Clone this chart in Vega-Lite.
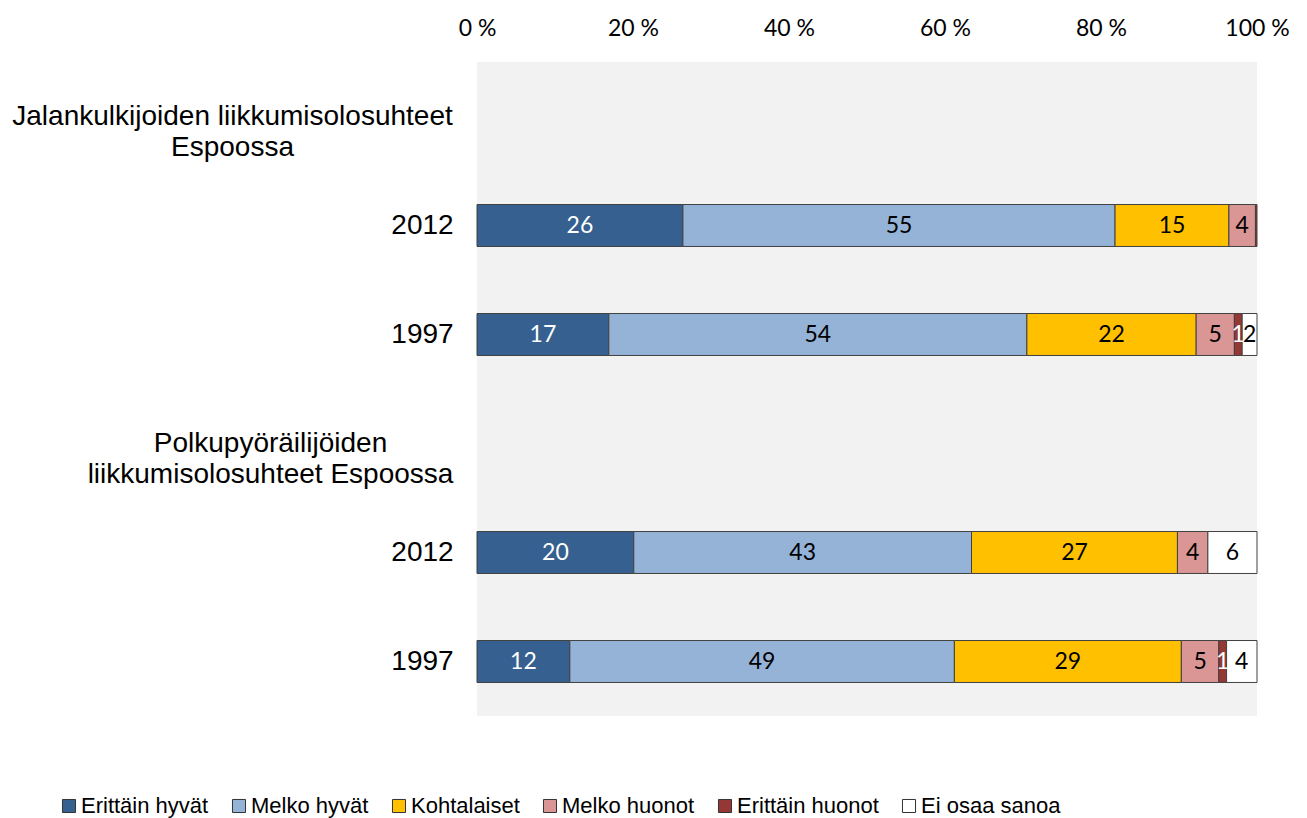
{
  "$schema": "https://vega.github.io/schema/vega-lite/v6.json",
  "width": 780,
  "height": 654,
  "autosize": {"type": "none"},
  "padding": {"left": 477, "top": 62, "right": 50, "bottom": 102},
  "background": "white",
  "config": {"view": {"fill": "#f2f2f2", "stroke": null}},
  "data": {"values": [
    {"row": "J2012", "cat": "Erittäin hyvät", "value": 26.4, "label": "26"},
    {"row": "J2012", "cat": "Melko hyvät", "value": 55.4, "label": "55"},
    {"row": "J2012", "cat": "Kohtalaiset", "value": 14.6, "label": "15"},
    {"row": "J2012", "cat": "Melko huonot", "value": 3.4, "label": "4"},
    {"row": "J2012", "cat": "Erittäin huonot", "value": 0.2, "label": ""},
    {"row": "J1997", "cat": "Erittäin hyvät", "value": 16.9, "label": "17"},
    {"row": "J1997", "cat": "Melko hyvät", "value": 53.6, "label": "54"},
    {"row": "J1997", "cat": "Kohtalaiset", "value": 21.7, "label": "22"},
    {"row": "J1997", "cat": "Melko huonot", "value": 4.9, "label": "5"},
    {"row": "J1997", "cat": "Erittäin huonot", "value": 1.0, "label": "1"},
    {"row": "J1997", "cat": "Ei osaa sanoa", "value": 1.9, "label": "2"},
    {"row": "P2012", "cat": "Erittäin hyvät", "value": 20.1, "label": "20"},
    {"row": "P2012", "cat": "Melko hyvät", "value": 43.3, "label": "43"},
    {"row": "P2012", "cat": "Kohtalaiset", "value": 26.4, "label": "27"},
    {"row": "P2012", "cat": "Melko huonot", "value": 3.9, "label": "4"},
    {"row": "P2012", "cat": "Ei osaa sanoa", "value": 6.3, "label": "6"},
    {"row": "P1997", "cat": "Erittäin hyvät", "value": 11.9, "label": "12"},
    {"row": "P1997", "cat": "Melko hyvät", "value": 49.3, "label": "49"},
    {"row": "P1997", "cat": "Kohtalaiset", "value": 29.1, "label": "29"},
    {"row": "P1997", "cat": "Melko huonot", "value": 4.8, "label": "5"},
    {"row": "P1997", "cat": "Erittäin huonot", "value": 1.0, "label": "1"},
    {"row": "P1997", "cat": "Ei osaa sanoa", "value": 3.9, "label": "4"}
  ]},
  "transform": [
    {"calculate": "indexof(['Erittäin hyvät','Melko hyvät','Kohtalaiset','Melko huonot','Erittäin huonot','Ei osaa sanoa'], datum.cat)", "as": "k"},
    {"stack": "value", "groupby": ["row"], "sort": [{"field": "k", "order": "ascending"}], "as": ["x0", "x1"]},
    {"calculate": "(datum.x0 + datum.x1) / 2", "as": "mid"}
  ],
  "encoding": {
    "y": {
      "field": "row",
      "type": "nominal",
      "scale": {"domain": ["JH", "J2012", "J1997", "PH", "P2012", "P1997"], "paddingInner": 0.615, "paddingOuter": 0.3075},
      "axis": {
        "title": null,
        "ticks": false,
        "domain": false,
        "labelAlign": "center",
        "labelPadding": {"condition": [{"test": "datum.value === 'JH'", "value": 245}, {"test": "datum.value === 'PH'", "value": 207}], "value": 55},
        "labelLimit": 600,
        "labelFont": "Liberation Sans",
        "labelFontSize": 28,
        "labelColor": "#000",
        "labelLineHeight": 31,
        "labelExpr": "datum.value === 'JH' ? ['Jalankulkijoiden liikkumisolosuhteet', 'Espoossa'] : datum.value === 'PH' ? ['Polkupyöräilijöiden', 'liikkumisolosuhteet Espoossa'] : slice(datum.value, 1)"
      }
    }
  },
  "layer": [
    {
      "mark": {"type": "bar", "stroke": "#404040", "strokeWidth": 1},
      "encoding": {
        "x": {
          "field": "x0",
          "type": "quantitative",
          "scale": {"domain": [0, 100], "nice": false},
          "axis": {
            "orient": "top",
            "title": null,
            "values": [0, 20, 40, 60, 80, 100],
            "labelExpr": "datum.value + ' %'",
            "ticks": false,
            "domain": false,
            "grid": false,
            "labelFont": "Lato",
            "labelFontSize": 23,
            "labelColor": "#000",
            "labelPadding": 22,
            "labelFlush": false
          }
        },
        "x2": {"field": "x1"},
        "color": {
          "field": "cat",
          "type": "nominal",
          "scale": {
            "domain": ["Erittäin hyvät", "Melko hyvät", "Kohtalaiset", "Melko huonot", "Erittäin huonot", "Ei osaa sanoa"],
            "range": ["#36608f", "#95b3d7", "#ffc000", "#d99694", "#953735", "#ffffff"]
          },
          "legend": {
            "orient": "none",
            "legendX": -419,
            "legendY": 733,
            "direction": "horizontal",
            "title": null,
            "padding": 0,
            "symbolType": "square",
            "symbolSize": 170,
            "symbolStrokeColor": "#333",
            "symbolStrokeWidth": 1,
            "symbolOpacity": 1,
            "labelFont": "Liberation Sans",
            "labelFontSize": 22,
            "labelColor": "#000",
            "labelOffset": 1,
            "columnPadding": 19,
            "labelLimit": 300
          }
        }
      }
    },
    {
      "transform": [{"filter": "datum.label !== ''"}],
      "mark": {"type": "text", "font": "Lato", "fontSize": 23, "baseline": "middle", "align": "center"},
      "encoding": {
        "x": {"field": "mid", "type": "quantitative"},
        "text": {"field": "label"},
        "color": {
          "condition": {"test": "datum.cat === 'Erittäin hyvät' || datum.cat === 'Erittäin huonot'", "value": "#ffffff"},
          "value": "#000000"
        }
      }
    }
  ]
}
